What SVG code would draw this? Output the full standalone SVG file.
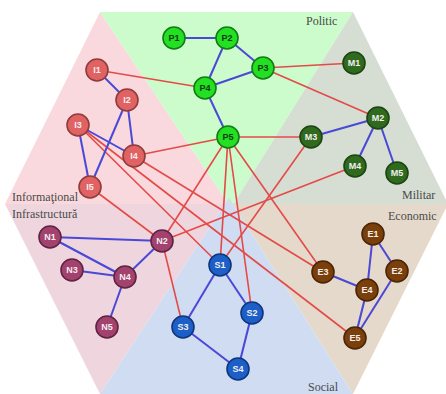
<svg xmlns="http://www.w3.org/2000/svg" width="446" height="394" viewBox="0 0 446 394">
<style>
.zone{stroke:none}
.zl{font-family:"Liberation Serif","DejaVu Serif",serif;font-size:12px;fill:#4a4a4a}
.r{stroke:#e44a48;stroke-width:1.6;fill:none}
.b{stroke:#4a48d6;stroke-width:2;fill:none}
.n circle{stroke-width:1.6}
.n text{font-family:"Liberation Sans","DejaVu Sans",sans-serif;font-size:9px;font-weight:bold;text-anchor:middle;fill:#f4eeee}
.p circle{fill:#22e022;stroke:#177a17}
.p text{fill:#0d3d0d}
.m circle{fill:#2f6a1f;stroke:#1d4512}
.i circle{fill:#e06262;stroke:#8e3c3c}
.nn circle{fill:#a3426e;stroke:#5e2442}
.s circle{fill:#1d5fc9;stroke:#10367a}
.e circle{fill:#7b3f0c;stroke:#4a2506}
</style>
<rect width="446" height="394" fill="#ffffff"/>
<g id="zones">
<polygon class="zone" fill="#f9d9dd" points="5,204 100,12 231,208 231,204"/>
<polygon class="zone" fill="#ccfccc" points="100,12 353,12 231,208"/>
<polygon class="zone" fill="#d6ddd2" points="353,12 448,204 231,204 231,208"/>
<polygon class="zone" fill="#e5d9cc" points="448,204 353,394 229,198 229,204"/>
<polygon class="zone" fill="#efd6de" points="5,204 229,204 229,198 100,394"/>
<polygon class="zone" fill="#cfdcf2" points="100,394 353,394 229,198"/>
<text class="zl" x="306" y="25">Politic</text>
<text class="zl" x="402" y="199">Militar</text>
<text class="zl" x="388" y="220">Economic</text>
<text class="zl" x="308" y="391">Social</text>
<text class="zl" x="12" y="201">Informaţional</text>
<text class="zl" x="12" y="218">Infrastructură</text>
</g>
<g id="connectors">
<line class="r" x1="97" y1="70" x2="205" y2="88"/>
<line class="r" x1="134" y1="156" x2="228" y2="137"/>
<line class="r" x1="78" y1="125" x2="220" y2="265"/>
<line class="r" x1="78" y1="125" x2="355" y2="338"/>
<line class="r" x1="134" y1="156" x2="323" y2="272"/>
<line class="r" x1="90" y1="187" x2="162" y2="241"/>
<line class="r" x1="263" y1="68" x2="354" y2="63"/>
<line class="r" x1="263" y1="68" x2="378" y2="118"/>
<line class="r" x1="228" y1="137" x2="311" y2="137"/>
<line class="r" x1="228" y1="137" x2="162" y2="241"/>
<line class="r" x1="228" y1="137" x2="220" y2="265"/>
<line class="r" x1="228" y1="137" x2="252" y2="313"/>
<line class="r" x1="228" y1="137" x2="323" y2="272"/>
<line class="r" x1="311" y1="137" x2="220" y2="265"/>
<line class="r" x1="355" y1="166" x2="162" y2="241"/>
<line class="r" x1="162" y1="241" x2="183" y2="327"/>
<line class="b" x1="174" y1="38" x2="227" y2="38"/>
<line class="b" x1="227" y1="38" x2="205" y2="88"/>
<line class="b" x1="227" y1="38" x2="263" y2="68"/>
<line class="b" x1="263" y1="68" x2="205" y2="88"/>
<line class="b" x1="205" y1="88" x2="228" y2="137"/>
<line class="b" x1="97" y1="70" x2="127" y2="100"/>
<line class="b" x1="127" y1="100" x2="134" y2="156"/>
<line class="b" x1="127" y1="100" x2="90" y2="187"/>
<line class="b" x1="78" y1="125" x2="134" y2="156"/>
<line class="b" x1="78" y1="125" x2="90" y2="187"/>
<line class="b" x1="311" y1="137" x2="378" y2="118"/>
<line class="b" x1="378" y1="118" x2="355" y2="166"/>
<line class="b" x1="378" y1="118" x2="397" y2="173"/>
<line class="b" x1="50" y1="237" x2="162" y2="241"/>
<line class="b" x1="50" y1="237" x2="125" y2="277"/>
<line class="b" x1="72" y1="270" x2="125" y2="277"/>
<line class="b" x1="162" y1="241" x2="125" y2="277"/>
<line class="b" x1="125" y1="277" x2="107" y2="327"/>
<line class="b" x1="220" y1="265" x2="183" y2="327"/>
<line class="b" x1="220" y1="265" x2="252" y2="313"/>
<line class="b" x1="183" y1="327" x2="238" y2="369"/>
<line class="b" x1="252" y1="313" x2="238" y2="369"/>
<line class="b" x1="373" y1="234" x2="397" y2="271"/>
<line class="b" x1="373" y1="234" x2="367" y2="290"/>
<line class="b" x1="323" y1="272" x2="367" y2="290"/>
<line class="b" x1="367" y1="290" x2="355" y2="338"/>
<line class="b" x1="397" y1="271" x2="355" y2="338"/>
</g>
<g id="P1" class="n p"><circle cx="174" cy="38" r="11"/><text x="174" y="41">P1</text></g>
<g id="P2" class="n p"><circle cx="227" cy="38" r="11"/><text x="227" y="41">P2</text></g>
<g id="P3" class="n p"><circle cx="263" cy="68" r="11"/><text x="263" y="71">P3</text></g>
<g id="P4" class="n p"><circle cx="205" cy="88" r="11"/><text x="205" y="91">P4</text></g>
<g id="P5" class="n p"><circle cx="228" cy="137" r="11"/><text x="228" y="140">P5</text></g>
<g id="M1" class="n m"><circle cx="354" cy="63" r="11"/><text x="354" y="66">M1</text></g>
<g id="M2" class="n m"><circle cx="378" cy="118" r="11"/><text x="378" y="121">M2</text></g>
<g id="M3" class="n m"><circle cx="311" cy="137" r="11"/><text x="311" y="140">M3</text></g>
<g id="M4" class="n m"><circle cx="355" cy="166" r="11"/><text x="355" y="169">M4</text></g>
<g id="M5" class="n m"><circle cx="397" cy="173" r="11"/><text x="397" y="176">M5</text></g>
<g id="I1" class="n i"><circle cx="97" cy="70" r="11"/><text x="97" y="73">I1</text></g>
<g id="I2" class="n i"><circle cx="127" cy="100" r="11"/><text x="127" y="103">I2</text></g>
<g id="I3" class="n i"><circle cx="78" cy="125" r="11"/><text x="78" y="128">I3</text></g>
<g id="I4" class="n i"><circle cx="134" cy="156" r="11"/><text x="134" y="159">I4</text></g>
<g id="I5" class="n i"><circle cx="90" cy="187" r="11"/><text x="90" y="190">I5</text></g>
<g id="N1" class="n nn"><circle cx="50" cy="237" r="11"/><text x="50" y="240">N1</text></g>
<g id="N2" class="n nn"><circle cx="162" cy="241" r="11"/><text x="162" y="244">N2</text></g>
<g id="N3" class="n nn"><circle cx="72" cy="270" r="11"/><text x="72" y="273">N3</text></g>
<g id="N4" class="n nn"><circle cx="125" cy="277" r="11"/><text x="125" y="280">N4</text></g>
<g id="N5" class="n nn"><circle cx="107" cy="327" r="11"/><text x="107" y="330">N5</text></g>
<g id="S1" class="n s"><circle cx="220" cy="265" r="11"/><text x="220" y="268">S1</text></g>
<g id="S2" class="n s"><circle cx="252" cy="313" r="11"/><text x="252" y="316">S2</text></g>
<g id="S3" class="n s"><circle cx="183" cy="327" r="11"/><text x="183" y="330">S3</text></g>
<g id="S4" class="n s"><circle cx="238" cy="369" r="11"/><text x="238" y="372">S4</text></g>
<g id="E1" class="n e"><circle cx="373" cy="234" r="11"/><text x="373" y="237">E1</text></g>
<g id="E2" class="n e"><circle cx="397" cy="271" r="11"/><text x="397" y="274">E2</text></g>
<g id="E3" class="n e"><circle cx="323" cy="272" r="11"/><text x="323" y="275">E3</text></g>
<g id="E4" class="n e"><circle cx="367" cy="290" r="11"/><text x="367" y="293">E4</text></g>
<g id="E5" class="n e"><circle cx="355" cy="338" r="11"/><text x="355" y="341">E5</text></g>
</svg>
